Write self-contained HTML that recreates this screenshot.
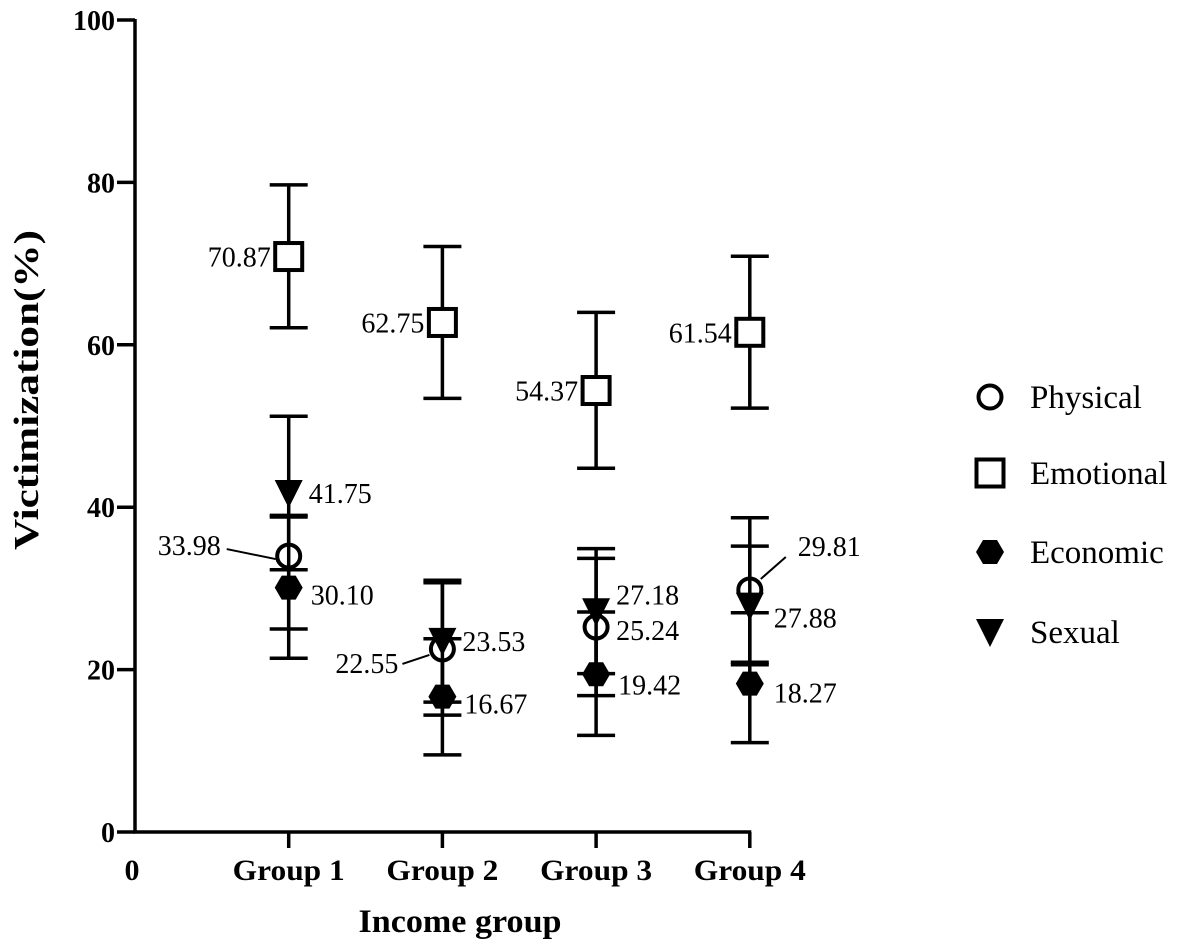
<!DOCTYPE html>
<html><head><meta charset="utf-8">
<style>
html,body{margin:0;padding:0;background:#fff;}
svg{display:block;font-family:"Liberation Serif",serif;}
</style></head>
<body>
<svg id="chart" width="1181" height="950" viewBox="0 0 1181 950">
<g id="axes"></g>
<g id="marks"></g>
<g id="legend"></g>
</svg>
<script>
const categories = ["Group 1","Group 2","Group 3","Group 4"];
const seriesNames = ["Physical","Emotional","Economic","Sexual"];
const physical = [33.98,22.55,25.24,29.81];
const physicalLo = [25.0,14.4,16.8,20.9];
const physicalHi = [39.0,30.7,33.7,38.7];
const emotional = [70.87,62.75,54.37,61.54];
const emotionalLo = [62.1,53.4,44.8,52.2];
const emotionalHi = [79.7,72.1,64.0,70.9];
const economic = [30.10,16.67,19.42,18.27];
const economicLo = [21.4,9.5,11.9,11.0];
const economicHi = [38.8,23.8,27.1,27.0];
const sexual = [41.75,23.53,27.18,27.88];
const sexualLo = [32.3,16.0,19.5,20.6];
const sexualHi = [51.2,31.0,34.9,35.2];
const yTicks = [0,20,40,60,80,100];

const NS="http://www.w3.org/2000/svg";
const x0=135, xStep=153.7, yBase=832, yTop=20;
function xs(i){return x0+(i+1)*xStep;}
function ys(v){return yBase-(v/100)*(yBase-yTop);}
function mk(tag,attrs,parent,text){const e=document.createElementNS(NS,tag);for(const k in attrs)e.setAttribute(k,attrs[k]);if(text!==undefined)e.textContent=text;parent.appendChild(e);return e;}

const axes=document.getElementById('axes');
let e;
e=mk('line',{x1:x0,y1:yTop-1,x2:x0,y2:yBase+1.5,stroke:'#000','stroke-width':3.5},axes);

e=mk('line',{x1:x0-1.5,y1:yBase,x2:xs(3)+1.5,y2:yBase,stroke:'#000','stroke-width':3.5},axes);

yTicks.forEach(t=>{
  const y=ys(t);
  let l=mk('line',{x1:x0-18,y1:y,x2:x0,y2:y,stroke:'#000','stroke-width':3.5},axes);
  
  let tx=mk('text',{x:x0-20,y:y+10,'text-anchor':'end','font-size':28,'font-weight':'bold'},axes,String(t));
  
});
e=mk('text',{x:132,y:880,'text-anchor':'middle','font-size':30,'font-weight':'bold'},axes,'0');

categories.forEach((c,i)=>{
  let l=mk('line',{x1:xs(i),y1:yBase,x2:xs(i),y2:yBase+16,stroke:'#000','stroke-width':3.5},axes);
  
  let tx=mk('text',{x:xs(i),y:880,'text-anchor':'middle','font-size':30,'font-weight':'bold',textLength:112,lengthAdjust:'spacingAndGlyphs'},axes,c);
  
});
e=mk('text',{x:460,y:932,'text-anchor':'middle','font-size':33,'font-weight':'bold',textLength:203,lengthAdjust:'spacingAndGlyphs'},axes,'Income group');

e=mk('text',{x:38,y:390,'text-anchor':'middle','font-size':35,'font-weight':'bold',textLength:320,lengthAdjust:'spacingAndGlyphs',transform:'rotate(-90 38 390)'},axes,'Victimization(%)');


function marker(type,cx,cy,parent){
  let m;
  if(type==='Physical') m=mk('circle',{cx:cx,cy:cy,r:11.5,fill:'#fff',stroke:'#000','stroke-width':4},parent);
  else if(type==='Emotional') m=mk('rect',{x:cx-13.5,y:cy-13.5,width:27,height:27,fill:'#fff',stroke:'#000','stroke-width':4},parent);
  else if(type==='Economic'){const r=14,h=12;m=mk('polygon',{points:[[cx-r,cy],[cx-r/2,cy-h],[cx+r/2,cy-h],[cx+r,cy],[cx+r/2,cy+h],[cx-r/2,cy+h]].map(p=>p.join(',')).join(' '),fill:'#000'},parent);}
  else m=mk('polygon',{points:`${cx-14},${cy-13} ${cx+14},${cy-13} ${cx},${cy+15}`,fill:'#000'},parent);
  return m;
}

const series=[
 {name:'Economic',v:economic,lo:economicLo,hi:economicHi},
 {name:'Physical',v:physical,lo:physicalLo,hi:physicalHi},
 {name:'Sexual',v:sexual,lo:sexualLo,hi:sexualHi},
 {name:'Emotional',v:emotional,lo:emotionalLo,hi:emotionalHi}
];
const labelPlace={
 Emotional:[[-18,10,'end'],[-18,10,'end'],[-18,10,'end'],[-18,10,'end']],
 Sexual:[[20,10,'start'],[20,10,'start'],[20,-7,'start'],[24,22,'start']],
 Physical:[[-68,0,'end',1],[-44,24,'end',1],[20,13,'start'],[48,-34,'start',1]],
 Economic:[[22,17,'start'],[22,17,'start'],[22,20,'start'],[24,19,'start']]
};
const marks=document.getElementById('marks');
series.forEach(s=>{
  const g=mk('g',{},marks);
  
  
  s.v.forEach((v,i)=>{
    const cx=xs(i);
    const eb=mk('path',{d:`M${cx},${ys(s.hi[i])}V${ys(s.lo[i])}M${cx-19},${ys(s.hi[i])}H${cx+19}M${cx-19},${ys(s.lo[i])}H${cx+19}`,stroke:'#000','stroke-width':3.5,fill:'none'},g);
    
  });
});
series.forEach((s,si)=>{
  const g=marks.children[si];
  s.v.forEach((v,i)=>{
    const cx=xs(i),cy=ys(v);
    const m=marker(s.name,cx,cy,g);
    
    
    const p=labelPlace[s.name][i];
    let tx=cx+p[0],ty=cy+p[1];
    if(p[3]){
      let ln;
      if(i===3){ln=mk('line',{x1:cx+11,y1:cy-11,x2:cx+36,y2:cy-33,stroke:'#000','stroke-width':2},g);}
      else if(i===1){ln=mk('line',{x1:cx-13,y1:cy+6,x2:cx-40,y2:cy+15,stroke:'#000','stroke-width':2},g);}
      else {ln=mk('line',{x1:cx-13,y1:cy+3,x2:cx-62,y2:cy-7,stroke:'#000','stroke-width':2},g);ty=cy-1;}
      
    }
    const t=mk('text',{x:tx,y:ty,'text-anchor':p[2],'font-size':28},g,v.toFixed(2));
    
    
  });
});

const legend=document.getElementById('legend');
const legY=[397,473,552,632];
seriesNames.forEach((n,i)=>{
  const g=mk('g',{},legend);
  
  
  marker(n,990,legY[i],g);
  mk('text',{x:1030,y:legY[i]+11,'font-size':33},g,n);
});
</script>
</body></html>
